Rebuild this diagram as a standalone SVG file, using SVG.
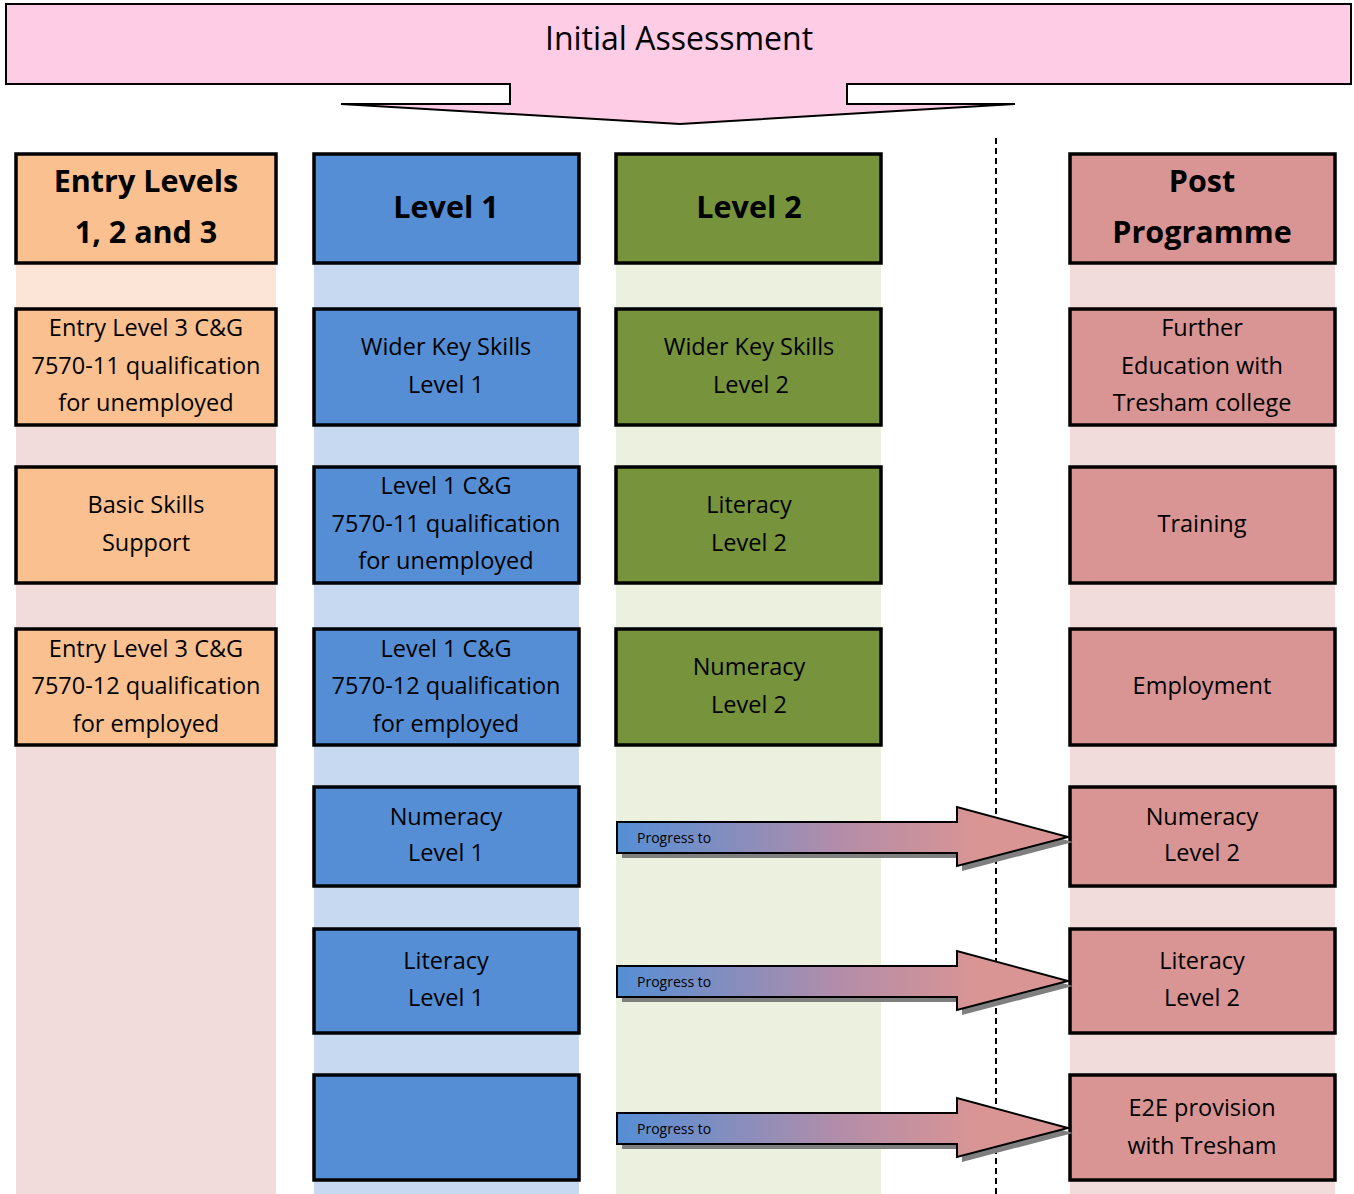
<svg xmlns="http://www.w3.org/2000/svg" width="1354" height="1194" viewBox="0 0 1354 1194">
<defs>
<linearGradient id="pg" x1="0" y1="0" x2="1" y2="0">
<stop offset="0" stop-color="#558ED5"/>
<stop offset="0.5" stop-color="#B48DA8"/>
<stop offset="0.8" stop-color="#D99594"/>
<stop offset="1" stop-color="#D99594"/>
</linearGradient>
<polygon id="arr" points="617,822 957,822 957,807 1068,837 957,866 957,853 617,853"/>
</defs>
<style>
.b{stroke:#000;stroke-width:3.5}
.en{fill:#FAC08F}
.l1{fill:#558ED5}
.l2{fill:#77933C}
.pp{fill:#D99594}
text{font-family:"Open Sans","Liberation Sans",sans-serif;fill:#000;text-anchor:middle}
.t{font-size:23.5px}
.h{font-size:30.5px;font-weight:bold}
.sm{font-size:14px;text-anchor:start}
</style>
<rect width="1354" height="1194" fill="#fff"/>
<g id="backgrounds">
<rect x="16" y="263" width="260" height="46" fill="#FCE4D6"/>
<rect x="16" y="309" width="260" height="885" fill="#F2DCDB"/>
<rect x="314" y="263" width="265" height="931" fill="#C6D9F1"/>
<rect x="616" y="263" width="265" height="931" fill="#EBF1DE"/>
<rect x="1070" y="263" width="265" height="931" fill="#F2DCDB"/>
</g>
<g id="initial-assessment">
<polygon points="6,4 1351,4 1351,84 847,84 847,104 1015,104 680,124 341,104 510,104 510,84 6,84" fill="#FFCCE6" stroke="#000" stroke-width="2"/>
<text x="679" y="50" style="font-size:32px">Initial Assessment</text>
</g>
<g id="divider">
<line x1="996" y1="138" x2="996" y2="1194" stroke="#000" stroke-width="2" stroke-dasharray="6,4"/>
</g>
<g id="col-entry">
<g id="entry-header"><rect class="b en" x="16" y="154" width="260" height="109"/><text class="h" x="146" y="192">Entry Levels</text><text class="h" x="146" y="243">1, 2 and 3</text></g>
<g id="entry-1"><rect class="b en" x="16" y="309" width="260" height="116"/><text class="t" x="146" y="336">Entry Level 3 C&amp;G</text><text class="t" x="146" y="374">7570-11 qualification</text><text class="t" x="146" y="411">for unemployed</text></g>
<g id="entry-2"><rect class="b en" x="16" y="467" width="260" height="116"/><text class="t" x="146" y="513">Basic Skills</text><text class="t" x="146" y="551">Support</text></g>
<g id="entry-3"><rect class="b en" x="16" y="629" width="260" height="116"/><text class="t" x="146" y="657">Entry Level 3 C&amp;G</text><text class="t" x="146" y="694">7570-12 qualification</text><text class="t" x="146" y="732">for employed</text></g>
</g>
<g id="col-level1">
<g id="l1-header"><rect class="b l1" x="314" y="154" width="265" height="109"/><text class="h" x="446" y="218">Level 1</text></g>
<g id="l1-1"><rect class="b l1" x="314" y="309" width="265" height="116"/><text class="t" x="446" y="355">Wider Key Skills</text><text class="t" x="446" y="393">Level 1</text></g>
<g id="l1-2"><rect class="b l1" x="314" y="467" width="265" height="116"/><text class="t" x="446" y="494">Level 1 C&amp;G</text><text class="t" x="446" y="532">7570-11 qualification</text><text class="t" x="446" y="569">for unemployed</text></g>
<g id="l1-3"><rect class="b l1" x="314" y="629" width="265" height="116"/><text class="t" x="446" y="657">Level 1 C&amp;G</text><text class="t" x="446" y="694">7570-12 qualification</text><text class="t" x="446" y="732">for employed</text></g>
<g id="l1-4"><rect class="b l1" x="314" y="787" width="265" height="99"/><text class="t" x="446" y="825">Numeracy</text><text class="t" x="446" y="861">Level 1</text></g>
<g id="l1-5"><rect class="b l1" x="314" y="929" width="265" height="104"/><text class="t" x="446" y="969">Literacy</text><text class="t" x="446" y="1006">Level 1</text></g>
<g id="l1-6"><rect class="b l1" x="314" y="1075" width="265" height="105"/></g>
</g>
<g id="col-level2">
<g id="l2-header"><rect class="b l2" x="616" y="154" width="265" height="109"/><text class="h" x="749" y="218">Level 2</text></g>
<g id="l2-1"><rect class="b l2" x="616" y="309" width="265" height="116"/><text class="t" x="749" y="355">Wider Key Skills</text><text class="t" x="751" y="393">Level 2</text></g>
<g id="l2-2"><rect class="b l2" x="616" y="467" width="265" height="116"/><text class="t" x="749" y="513">Literacy</text><text class="t" x="749" y="551">Level 2</text></g>
<g id="l2-3"><rect class="b l2" x="616" y="629" width="265" height="116"/><text class="t" x="749" y="675">Numeracy</text><text class="t" x="749" y="713">Level 2</text></g>
</g>
<g id="col-post">
<g id="pp-header"><rect class="b pp" x="1070" y="154" width="265" height="109"/><text class="h" x="1202" y="192">Post</text><text class="h" x="1202" y="243">Programme</text></g>
<g id="pp-1"><rect class="b pp" x="1070" y="309" width="265" height="116"/><text class="t" x="1202" y="336">Further</text><text class="t" x="1202" y="374">Education with</text><text class="t" x="1202" y="411">Tresham college</text></g>
<g id="pp-2"><rect class="b pp" x="1070" y="467" width="265" height="116"/><text class="t" x="1202" y="532">Training</text></g>
<g id="pp-3"><rect class="b pp" x="1070" y="629" width="265" height="116"/><text class="t" x="1202" y="694">Employment</text></g>
<g id="pp-4"><rect class="b pp" x="1070" y="787" width="265" height="99"/><text class="t" x="1202" y="825">Numeracy</text><text class="t" x="1202" y="861">Level 2</text></g>
<g id="pp-5"><rect class="b pp" x="1070" y="929" width="265" height="104"/><text class="t" x="1202" y="969">Literacy</text><text class="t" x="1202" y="1006">Level 2</text></g>
<g id="pp-6"><rect class="b pp" x="1070" y="1075" width="265" height="105"/><text class="t" x="1202" y="1116">E2E provision</text><text class="t" x="1202" y="1154">with Tresham</text></g>
</g>
<g id="connectors">
<g id="progress-1">
<use href="#arr" transform="translate(5,5)" fill="#7F7F7F"/>
<use href="#arr" fill="url(#pg)" stroke="#000" stroke-width="2"/>
<text class="sm" x="637" y="843">Progress to</text>
</g>
<g id="progress-2" transform="translate(0,144)">
<use href="#arr" transform="translate(5,5)" fill="#7F7F7F"/>
<use href="#arr" fill="url(#pg)" stroke="#000" stroke-width="2"/>
<text class="sm" x="637" y="843">Progress to</text>
</g>
<g id="progress-3" transform="translate(0,291)">
<use href="#arr" transform="translate(5,5)" fill="#7F7F7F"/>
<use href="#arr" fill="url(#pg)" stroke="#000" stroke-width="2"/>
<text class="sm" x="637" y="843">Progress to</text>
</g>
</g>
</svg>
